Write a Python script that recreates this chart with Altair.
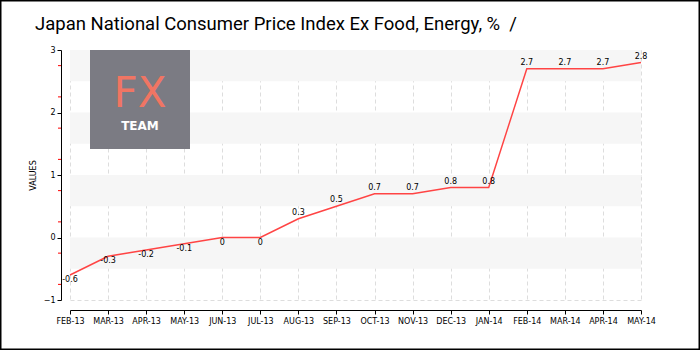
import altair as alt
import pandas as pd

months = ["FEB-13", "MAR-13", "APR-13", "MAY-13", "JUN-13", "JUL-13", "AUG-13", "SEP-13",
          "OCT-13", "NOV-13", "DEC-13", "JAN-14", "FEB-14", "MAR-14", "APR-14", "MAY-14"]
values = [-0.6, -0.3, -0.2, -0.1, 0, 0, 0.3, 0.5, 0.7, 0.7, 0.8, 0.8, 2.7, 2.7, 2.7, 2.8]
band_lo = [2.5, 1.5, 0.5, -0.5]
band_hi = [3.0, 2.0, 1.0, 0.0]
minor_ticks = [2.75, 2.25, 1.75, 1.25, 0.75, 0.25, -0.25, -0.75]
title_text = "Japan National Consumer Price Index Ex Food, Energy, %\u00a0 /"

df = pd.DataFrame({"month": months, "value": values,
                   "label": [("%g" % v) for v in values]})
bands = pd.DataFrame({"lo": band_lo, "hi": band_hi})
minor = pd.DataFrame({"v": minor_ticks})
one = pd.DataFrame({"a": [0]})

W, H = 571, 250
FONT = "DejaVu Sans"

xs = alt.X("month:N", sort=months,
           scale=alt.Scale(type="point", padding=0),
           axis=alt.Axis(title=None, labelAngle=0, offset=10, grid=True,
                         gridColor="#dddddd", gridDash=[4, 3],
                         domainColor="#000000", tickColor="#000000", tickSize=4,
                         labelFont=FONT, labelFontSize=8, labelColor="#000000",
                         labelPadding=3))
ys = alt.Y("value:Q", scale=alt.Scale(domain=[-1, 3], nice=False, zero=False),
           axis=alt.Axis(title="VALUES", values=[-1, -0.5, 0, 0.5, 1, 1.5, 2, 2.5, 3],
                         format=".1~f",
                         offset=9, grid=True, gridColor="#dddddd", gridDash=[4, 3],
                         domainColor="#000000", tickColor="#000000", tickSize=4,
                         labelFont=FONT, labelFontSize=8, labelColor="#000000",
                         titleFont=FONT, titleFontSize=8, titleFontWeight="normal",
                         titleColor="#000000", titlePadding=6, labelPadding=2))

yscale = alt.Scale(domain=[-1, 3], nice=False, zero=False)

band_layer = alt.Chart(bands).mark_rect(color="#f6f6f6").encode(
    x=alt.value(0), x2=alt.value(W),
    y=alt.Y("lo:Q", scale=yscale), y2="hi:Q")

minor_layer = alt.Chart(minor).mark_rule(color="#ff0000", strokeWidth=1).encode(
    x=alt.value(-12), x2=alt.value(-9),
    y=alt.Y("v:Q", scale=yscale))

base = alt.Chart(df)
line = base.mark_line(color="#ff4444", strokeWidth=1.5).encode(x=xs, y=ys)

text_pos = base.transform_filter("datum.value > 0").mark_text(
    font=FONT, fontSize=8, color="#000000", dy=-6).encode(
    x=alt.X("month:N", sort=months), y="value:Q", text="label:N")
text_neg = base.transform_filter("datum.value <= 0").mark_text(
    font=FONT, fontSize=8, color="#000000", dy=5).encode(
    x=alt.X("month:N", sort=months), y="value:Q", text="label:N")

deco = alt.Chart(one)
logo_bg = deco.mark_rect(color="#7b7b83").encode(
    x=alt.value(20), x2=alt.value(120), y=alt.value(0), y2=alt.value(99))
logo_fx = deco.mark_text(text="FX", font=FONT, fontSize=42, color="#f07563",
                         baseline="alphabetic", align="center").encode(
    x=alt.value(70), y=alt.value(57))
logo_team = deco.mark_text(text="TEAM", font=FONT, fontSize=12, fontWeight="bold",
                           color="#ffffff", baseline="alphabetic", align="center").encode(
    x=alt.value(70), y=alt.value(80))

title_layer = deco.mark_text(text=title_text,
                             font="Roboto", fontSize=18.5, color="#000000",
                             align="left", baseline="alphabetic").encode(
    x=alt.value(-35), y=alt.value(-20))

border = deco.mark_rect(fill=None, stroke="#000000", strokeWidth=1.5).encode(
    x=alt.value(-69.25), x2=alt.value(629.25), y=alt.value(-49.25), y2=alt.value(299.25))

chart = alt.layer(band_layer, minor_layer, line, text_pos, text_neg,
                  logo_bg, logo_fx, logo_team, title_layer, border).properties(
    width=W, height=H,
    autosize=alt.AutoSizeParams(type="none"),
    padding={"left": 70, "top": 50, "right": 59, "bottom": 50},
    background="#ffffff"
).configure_view(stroke=None)

chart.save("out.html", embed_options={"renderer": "svg", "actions": False})
